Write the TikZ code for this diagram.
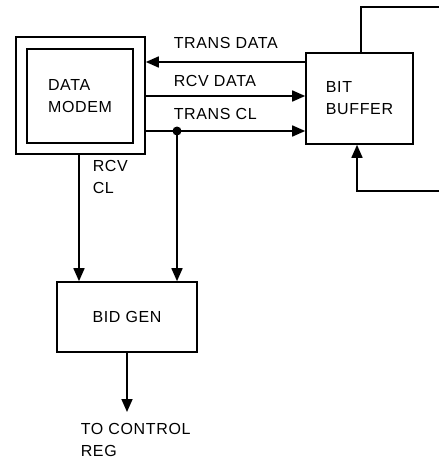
\documentclass[tikz,border=0pt]{standalone}
\usepackage{fontspec}
\setmainfont[LetterSpace=4]{Liberation Sans}
\usetikzlibrary{arrows.meta}
\tikzset{
  blk/.style={draw, line width=1.6pt, inner sep=0pt},
  arr/.style={-{Triangle[length=13pt,width=11pt]}},
  lbl/.style={anchor=west, inner sep=0pt}
}
\begin{document}
\begin{tikzpicture}[x=1pt, y=-1pt, line width=1.6pt, font=\fontsize{16}{22}\selectfont]
            \useasboundingbox (0,0) rectangle (439,468);

            \node[blk, minimum width=129pt, minimum height=117pt] (modem) at (80.5,95.5) {};
            \node[blk, minimum width=106pt, minimum height=94pt, align=left] (modemin) at (80,96) {DATA\\MODEM};
            \node[blk, minimum width=107pt, minimum height=91pt, align=left] (buffer) at (359.5,98.5) {BIT\\BUFFER};
            \node[blk, minimum width=140pt, minimum height=70pt] (bidgen) at (127,317) {BID GEN};

            % links between modem and buffer
            \draw[arr] (buffer.west |- 0,62) -- (modem.east |- 0,62);
            \draw[arr] (modem.east |- 0,96) -- (buffer.west |- 0,96);
            \draw[arr] (modem.east |- 0,131) -- (buffer.west |- 0,131);
            \node[lbl] (tdata) at (173,42.5) {TRANS DATA};
            \node[lbl] (rdata) at (173,80.5) {RCV DATA};
            \node[lbl] (tcl) at (173,114) {TRANS CL};

            % clocks to bid gen
            \fill (177,131) circle (4.5pt) coordinate (tap);
            \draw[arr] (tap) -- (tap |- bidgen.north);
            \draw[arr] (modem.south -| 79,0) -- (bidgen.north -| 79,0);
            \node[lbl, align=left, anchor=north west] (rcvcl) at (92,160) {RCV\\CL};

            % right side lines
            \coordinate (bufout) at (439,7);
            \coordinate (bufin) at (439,191);
            \draw (buffer.north -| 361,0) |- (bufout);
            \draw[arr] (bufin) -| (buffer.south -| 357,0);

            % output
            \coordinate (ctrl) at (127,412);
            \draw[arr] (bidgen.south) -- (ctrl);
            \node[lbl, align=left, anchor=north west] (ctrlreg) at (80,423) {TO CONTROL\\REG};
        \end{tikzpicture}
\end{document}
